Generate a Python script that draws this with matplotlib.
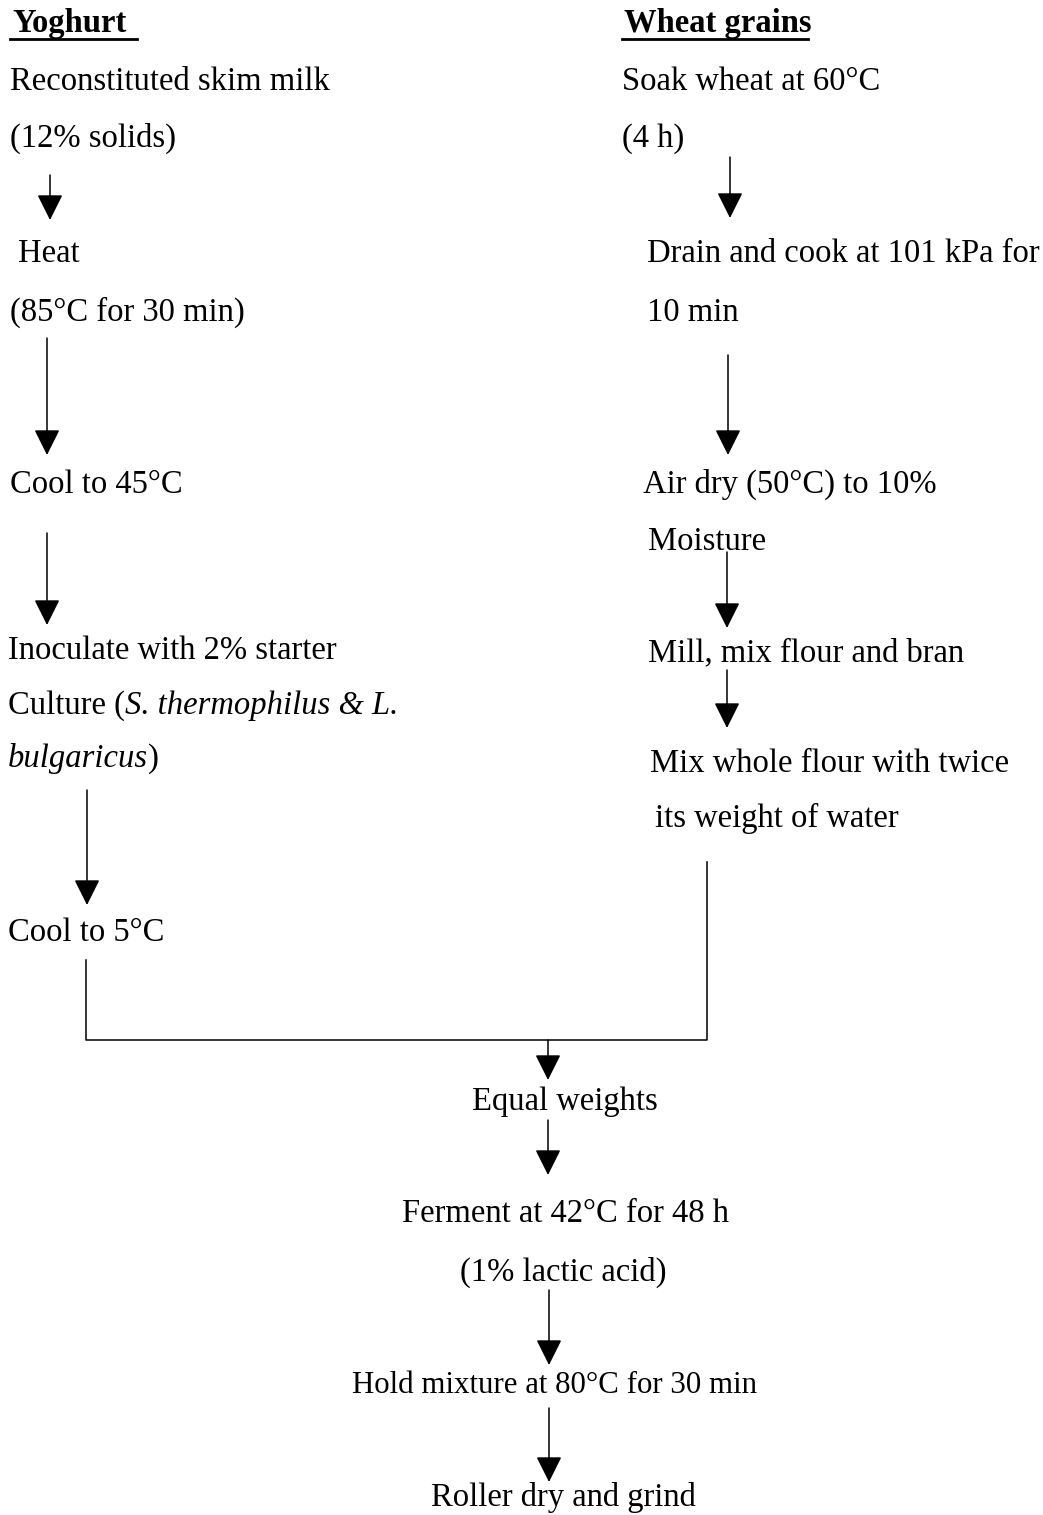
import matplotlib
matplotlib.use("Agg")
import matplotlib.pyplot as plt

plt.rcParams['font.family'] = 'Liberation Serif'

# column headings
headings = ["Yoghurt", "Wheat grains"]

# yoghurt branch (each line is a list of (text, italic) pieces)
left_steps = [[("Reconstituted skim milk", False)], [("(12% solids)", False)],
              [("Heat", False)], [("(85°C for 30 min)", False)],
              [("Cool to 45°C", False)], [("Inoculate with 2% starter", False)],
              [("Culture (", False), ("S. thermophilus & L.", True)],
              [("bulgaricus", True), (")", False)], [("Cool to 5°C", False)]]

# wheat branch
right_steps = ["Soak wheat at 60°C", "(4 h)", "Drain and cook at 101 kPa for", "10 min",
               "Air dry (50°C) to 10%", "Moisture", "Mill, mix flour and bran",
               "Mix whole flour with twice", "its weight of water"]

# combined process
center_steps = ["Equal weights", "Ferment at 42°C for 48 h", "(1% lactic acid)",
                "Hold mixture at 80°C for 30 min", "Roller dry and grind"]

# layout (pixels, y down, text baselines)
head_pos = [(12, 32, 137), (624, 32, 808)]
left_pos = [(10, 90), (10, 147), (18, 262), (10, 321), (10, 493), (8, 659),
            (8, 714), (8, 767), (8, 941)]
right_pos = [(622, 90), (622, 147), (647, 262), (647, 321), (643, 493), (648, 550),
             (648, 661), (650, 772), (655, 827)]
center_pos = [(565, 1110), (565, 1222), (563, 1281), (554, 1393), (563, 1506)]
center_fs = [23.5, 23.5, 23.5, 22.2, 23.5]

arrows = [(50, 175, 220), (47, 338, 455), (47, 533, 625), (87, 790, 905),
          (730, 157, 218), (728, 355, 455), (727, 552, 628), (727, 670, 728),
          (548, 1040, 1080), (548, 1120, 1175), (549, 1290, 1365), (549, 1408, 1482)]
join_x = [86, 86, 707, 707]
join_y = [960, 1040, 1040, 862]

FS = 23.5

fig = plt.figure(figsize=(10.43, 15.15), dpi=100)
ax = fig.add_axes([0, 0, 1, 1])
ax.set_xlim(0, 1043)
ax.set_ylim(1515, 0)
ax.axis('off')
renderer = fig.canvas.get_renderer()

for h, (x, y, xe) in zip(headings, head_pos):
    ax.text(x, y, h, fontsize=FS, fontweight='bold', va='baseline', ha='left')
    ax.plot([x - 2, xe], [y + 7, y + 7], color='black', lw=2.0)

for pieces, (x, y) in zip(left_steps, left_pos):
    cx = x
    for s, it in pieces:
        t = ax.text(cx, y, s, fontsize=FS, va='baseline', ha='left',
                    style='italic' if it else 'normal')
        bb = t.get_window_extent(renderer)
        cx += bb.width  # 1 px == 1 data unit here
for s, (x, y) in zip(right_steps, right_pos):
    ax.text(x, y, s, fontsize=FS, va='baseline', ha='left')
for s, (x, y), fs in zip(center_steps, center_pos, center_fs):
    ax.text(x, y, s, fontsize=fs, va='baseline', ha='center')

ax.plot(join_x, join_y, color='black', lw=1.1)

for x, y0, y1 in arrows:
    ax.annotate('', xy=(x, y1), xytext=(x, y0),
                arrowprops=dict(arrowstyle='-|>,head_length=0.8,head_width=0.4',
                                mutation_scale=20, lw=1.1, color='black',
                                shrinkA=0, shrinkB=0))

fig.savefig('out.png', dpi=100)
